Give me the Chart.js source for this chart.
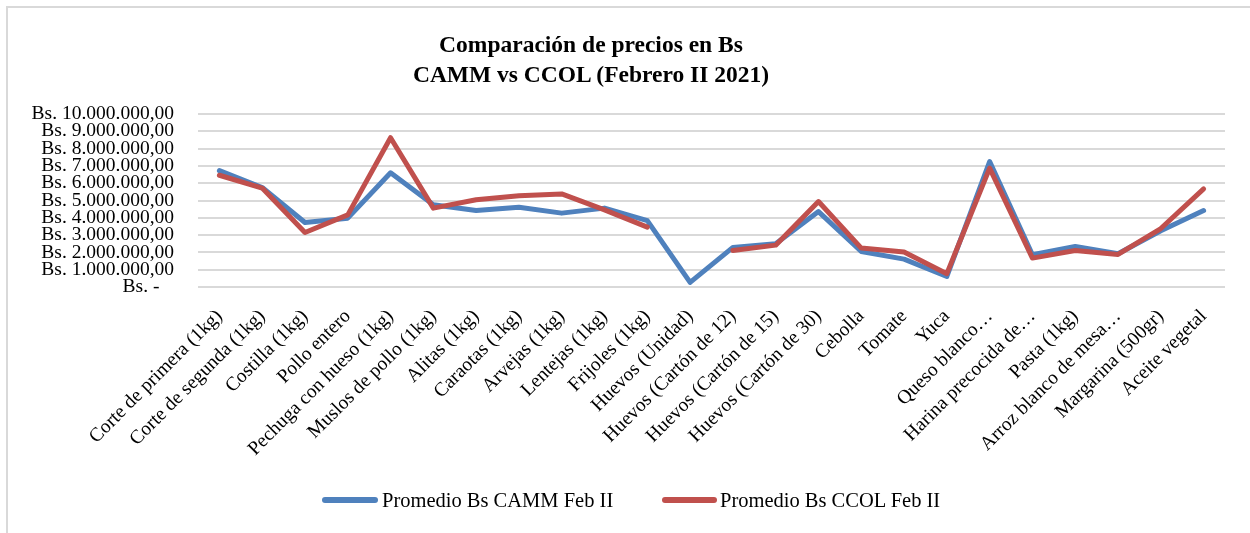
<!DOCTYPE html>
<html><head><meta charset="utf-8">
<script src="https://cdn.jsdelivr.net/npm/chart.js@4"></script>
<style>
body{margin:0;background:#fff;}
#wrap{position:relative;width:1250px;height:533px;overflow:hidden;font-family:"Liberation Serif",serif;color:#000;}
#frame{position:absolute;left:6px;top:6px;width:1300px;height:600px;border:2px solid #d9d9d9;box-sizing:border-box;}
#title{position:absolute;left:0;width:1182px;top:29px;text-align:center;font-weight:bold;font-size:23.5px;line-height:30px;}
.sw{position:absolute;top:497px;height:6px;border-radius:3px;}
.lt{position:absolute;top:488px;font-size:20.5px;line-height:24px;white-space:nowrap;}
canvas{position:absolute;left:0;top:0;}
</style></head>
<body><div id="wrap">
<div id="frame"></div>
<canvas id="c" width="1250" height="533"></canvas>
<div id="title">Comparación de precios en Bs<br>CAMM vs CCOL (Febrero II 2021)</div>
<span class="sw" style="left:322px;width:56px;background:#4f81bd"></span><span class="lt" id="l1" style="left:382px"></span>
<span class="sw" style="left:662px;width:55px;background:#c0504d"></span><span class="lt" id="l2" style="left:720px"></span>
</div>
<script>
const categories = ["Corte de primera (1kg)","Corte de segunda (1kg)","Costilla (1kg)","Pollo entero","Pechuga con hueso (1kg)","Muslos de pollo (1kg)","Alitas (1kg)","Caraotas (1kg)","Arvejas (1kg)","Lentejas (1kg)","Frijoles (1kg)","Huevos (Unidad)","Huevos (Cartón de 12)","Huevos (Cartón de 15)","Huevos (Cartón de 30)","Cebolla","Tomate","Yuca","Queso blanco…","Harina precocida de…","Pasta (1kg)","Arroz blanco de mesa…","Margarina (500gr)","Aceite vegetal"];
const seriesNames = ["Promedio Bs CAMM Feb II","Promedio Bs CCOL Feb II"];
const cammValues = [6730000,5750000,3730000,3980000,6600000,4750000,4420000,4610000,4270000,4560000,3840000,270000,2290000,2500000,4360000,2050000,1610000,610000,7250000,1860000,2340000,1920000,3250000,4420000];
const ccolValues = [6460000,5720000,3150000,4170000,8630000,4560000,5040000,5270000,5380000,4460000,3460000,null,2110000,2420000,4940000,2250000,2020000,770000,6870000,1670000,2110000,1880000,3380000,5670000];
const yTicks = [0,1000000,2000000,3000000,4000000,5000000,6000000,7000000,8000000,9000000,10000000];

document.getElementById('l1').textContent = seriesNames[0];
document.getElementById('l2').textContent = seriesNames[1];

function fmt(v){
  if(v===0) return "Bs. -   ";
  const s = String(Math.round(v)).replace(/\B(?=(\d{3})+(?!\d))/g,".");
  return "Bs. " + s + ",00";
}
const serif = "'Liberation Serif', serif";
new Chart(document.getElementById('c'), {
  type:'line',
  data:{
    labels:categories,
    datasets:[
      {label:seriesNames[0],data:cammValues,borderColor:'#4f81bd',backgroundColor:'#4f81bd',borderWidth:5,pointRadius:0,tension:0,borderJoinStyle:'round',borderCapStyle:'round',order:1},
      {label:seriesNames[1],data:ccolValues,borderColor:'#c0504d',backgroundColor:'#c0504d',borderWidth:5,pointRadius:0,tension:0,borderJoinStyle:'round',borderCapStyle:'round',spanGaps:false,order:0}
    ]
  },
  options:{
    responsive:false,animation:false,
    layout:{padding:{top:114,right:25,left:0,bottom:0}},
    plugins:{legend:{display:false},title:{display:false},tooltip:{enabled:false}},
    scales:{
      x:{offset:true,grid:{display:false},border:{display:false},
        ticks:{color:'#000',font:{family:serif,size:19.5},minRotation:45,maxRotation:45,autoSkip:false,padding:10,labelOffset:0},
        afterFit(s){s.height=246;}},
      y:{min:0,max:10000000,
        grid:{color:'#d9d9d9',lineWidth:2,drawTicks:false},border:{display:false},
        afterBuildTicks(s){s.ticks=yTicks.map(v=>({value:v}));},
        ticks:{color:'#000',font:{family:serif,size:19.5},autoSkip:false,padding:24,callback:v=>fmt(v)},
        afterFit(s){s.width=198;}}
    }
  }
});
</script>
</body></html>
